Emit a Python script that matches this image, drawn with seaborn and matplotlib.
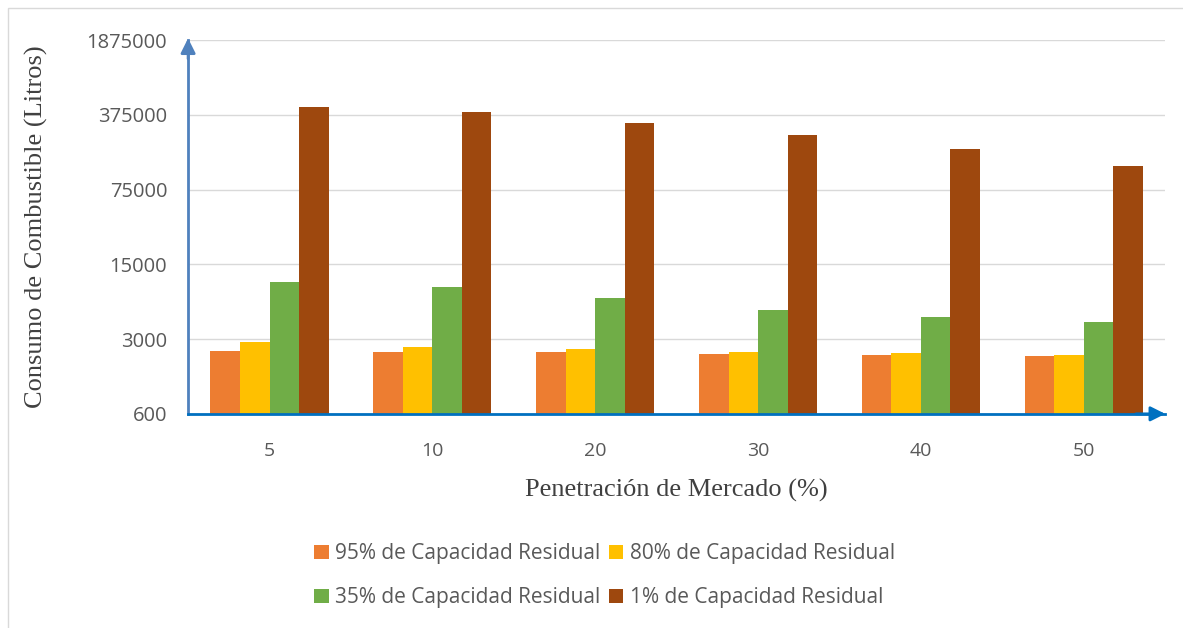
import seaborn as sns
import pandas as pd
import matplotlib.pyplot as plt
from matplotlib.patches import Rectangle

# Datos (litros)
penetracion = ['5', '10', '20', '30', '40', '50']
series = ['95% de Capacidad Residual', '80% de Capacidad Residual',
          '35% de Capacidad Residual', '1% de Capacidad Residual']
cap_95 = [2330, 2280, 2260, 2180, 2135, 2090]
cap_80 = [2820, 2540, 2430, 2280, 2230, 2135]
cap_35 = [10260, 9220, 7270, 5620, 4835, 4340]
cap_1 = [443000, 398000, 314000, 243000, 179000, 124500]
y_ticks = [600, 3000, 15000, 75000, 375000, 1875000]
colores = ['#ed7d31', '#ffc000', '#70ad47', '#9e480e']

rows = []
for nombre, vals in zip(series, [cap_95, cap_80, cap_35, cap_1]):
    for p, v in zip(penetracion, vals):
        rows.append({'pen': p, 'serie': nombre, 'litros': v})
df = pd.DataFrame(rows)

sns.set_style('white')
plt.rcParams['font.family'] = ['Open Sans', 'DejaVu Sans']

fig = plt.figure(figsize=(11.83, 6.28), dpi=100)
ax = fig.add_axes([0.159, 0.341, 0.826, 0.595])

sns.barplot(data=df, x='pen', y='litros', hue='serie', hue_order=series,
            palette=colores, width=0.725, saturation=1, linewidth=0,
            ax=ax, legend=True)

ax.set_yscale('log', base=5)
ax.set_ylim(600, 1875000)
ax.set_xlim(-0.5, 5.5)
ax.set_yticks(y_ticks)
ax.set_yticklabels([str(t) for t in y_ticks])
ax.minorticks_off()
ax.yaxis.grid(True, color='#d9d9d9', lw=1)
ax.set_axisbelow(True)

ax.tick_params(axis='y', length=0, labelsize=14.5, labelcolor='#595959', pad=15)
ax.tick_params(axis='x', length=0, labelsize=14, labelcolor='#595959', pad=20)
ax.set_xticks([i - 0.5 for i in range(7)], minor=True)
ax.tick_params(axis='x', which='minor', length=10, direction='inout',
               color='#0070c0', width=1.2)

for s in ['top', 'right']:
    ax.spines[s].set_visible(False)
ax.spines['left'].set_color('#4f81bd')
ax.spines['left'].set_linewidth(2)
ax.spines['bottom'].set_color('#0070c0')
ax.spines['bottom'].set_linewidth(2)

# flechas de los ejes
ax.annotate('', xy=(0, 1.005), xytext=(0, 0.95), xycoords='axes fraction',
            arrowprops=dict(arrowstyle='-|>', color='#4f81bd', lw=2,
                            mutation_scale=22, shrinkA=0, shrinkB=0),
            annotation_clip=False)
ax.annotate('', xy=(1.0, 0), xytext=(0.97, 0), xycoords='axes fraction',
            arrowprops=dict(arrowstyle='-|>', color='#0070c0', lw=2,
                            mutation_scale=22, shrinkA=0, shrinkB=0),
            annotation_clip=False)

ax.set_xlabel('Penetración de Mercado (%)', family='Liberation Serif',
              fontsize=19, color='#404040', labelpad=14)
ax.set_ylabel('Consumo de Combustible (Litros)', family='Liberation Serif',
              fontsize=19, color='#404040', labelpad=28)

handles, labels = ax.get_legend_handles_labels()
ax.legend_.remove()
orden = [0, 2, 1, 3]
fig.legend([handles[i] for i in orden], [labels[i] for i in orden],
           loc='center', bbox_to_anchor=(0.511, 0.083),
           ncol=2, frameon=False, fontsize=15, labelcolor='#595959',
           handlelength=0.7, handleheight=0.7, handletextpad=0.3,
           columnspacing=0.4, labelspacing=1.1)

fig.patches.append(Rectangle((0.007, -0.01), 1.0, 0.998, transform=fig.transFigure,
                             fill=False, edgecolor='#d9d9d9', lw=1))

fig.savefig('out.png', dpi=100, facecolor='white')
